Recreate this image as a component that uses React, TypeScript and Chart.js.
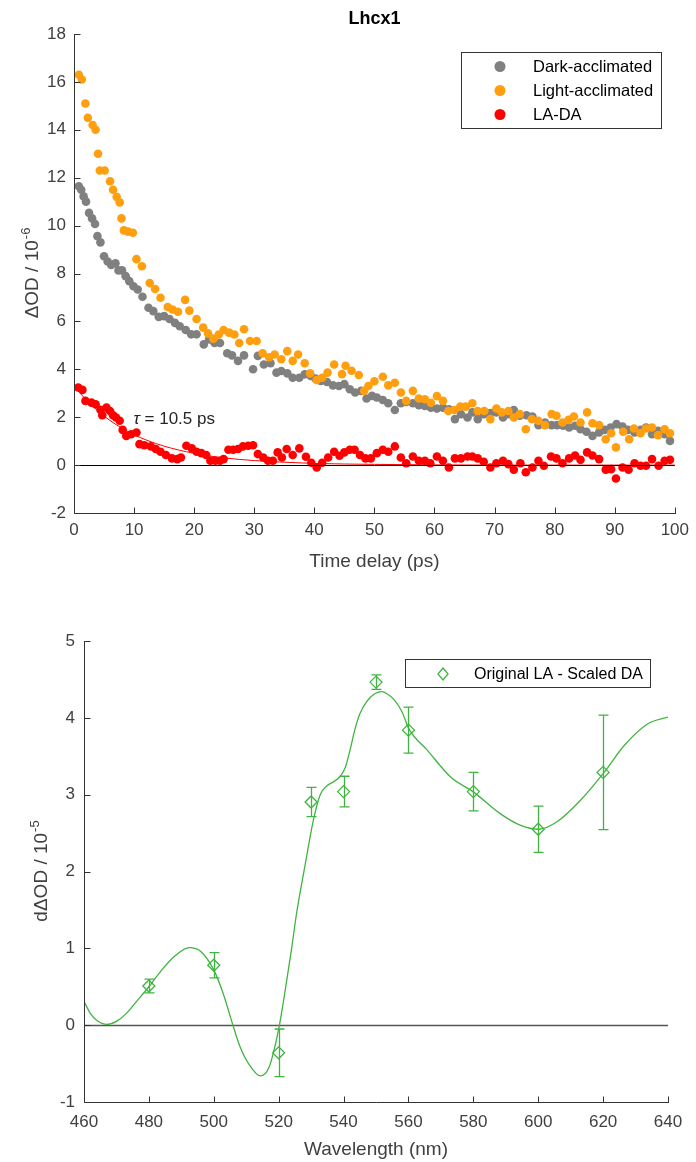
import React, { useEffect, useRef } from 'react';
import { Chart, registerables } from 'chart.js';

Chart.register(...registerables);

const FONT = '"Liberation Sans", Arial, Helvetica, sans-serif';
const AXIS_COLOR = '#333333';
const TEXT_COLOR = '#404040';
const GRAY = '#808080';
const ORANGE = '#FF9F10';
const RED = '#FF0000';
const GREEN = '#40B440';

// ---------- Top chart: kinetics ----------
const timeTicks = [0, 10, 20, 30, 40, 50, 60, 70, 80, 90, 100];
const odTicks = [-2, 0, 2, 4, 6, 8, 10, 12, 14, 16, 18];

const darkT = [0.8, 1.2, 1.6, 2.0, 2.5, 3.0, 3.5, 3.9, 4.4, 5.0, 5.6, 6.2, 6.9, 7.4, 8.0, 8.6, 9.2, 9.9, 10.6, 11.4, 12.4, 13.2, 14.1, 15.0, 15.9, 16.8, 17.6, 18.6, 19.5, 20.4, 21.6, 22.5, 23.4, 24.3, 25.5, 26.3, 27.3, 28.3, 29.8, 30.6, 31.6, 32.7, 33.7, 34.5, 35.5, 36.4, 37.5, 38.4, 39.4, 40.2, 41.1, 42.1, 43.1, 44.1, 45.0, 45.9, 46.8, 47.8, 48.7, 49.6, 50.4, 51.4, 52.3, 53.4, 54.4, 55.3, 56.4, 57.4, 58.4, 59.4, 60.4, 61.4, 62.4, 63.4, 64.4, 65.5, 66.3, 67.2, 68.2, 69.3, 70.3, 71.4, 72.3, 73.2, 74.2, 75.3, 76.3, 77.3, 78.4, 79.5, 80.4, 81.4, 82.4, 83.4, 84.3, 85.3, 86.3, 87.4, 88.3, 89.3, 90.3, 91.3, 92.2, 93.3, 94.3, 95.2, 96.2, 97.2, 98.3, 99.2];
const darkV = [11.64, 11.5, 11.22, 11.0, 10.53, 10.3, 10.07, 9.56, 9.3, 8.72, 8.5, 8.36, 8.43, 8.13, 8.13, 7.89, 7.68, 7.47, 7.33, 7.03, 6.57, 6.43, 6.19, 6.22, 6.1, 5.94, 5.8, 5.64, 5.46, 5.46, 5.04, 5.25, 5.1, 5.1, 4.67, 4.58, 4.35, 4.58, 4.0, 4.56, 4.2, 4.25, 3.86, 3.93, 3.83, 3.65, 3.65, 3.79, 3.72, 3.61, 3.51, 3.47, 3.33, 3.3, 3.38, 3.17, 3.03, 3.1, 2.78, 2.89, 2.82, 2.72, 2.58, 2.3, 2.58, 2.64, 2.58, 2.5, 2.47, 2.4, 2.36, 2.4, 2.33, 1.92, 2.13, 1.99, 2.2, 1.92, 2.13, 2.17, 2.2, 1.99, 2.13, 2.3, 2.06, 2.08, 2.03, 1.67, 1.78, 1.67, 1.67, 1.64, 1.57, 1.64, 1.5, 1.39, 1.22, 1.36, 1.47, 1.57, 1.71, 1.61, 1.47, 1.36, 1.47, 1.57, 1.29, 1.43, 1.29, 1.01];

const lightT = [0.8, 1.3, 1.9, 2.3, 3.1, 3.6, 4.0, 4.3, 5.1, 6.0, 6.5, 7.1, 7.6, 7.9, 8.3, 9.0, 9.8, 10.4, 11.3, 12.6, 13.5, 14.4, 15.6, 16.4, 17.3, 18.5, 19.2, 20.4, 21.5, 22.3, 23.2, 24.1, 24.9, 25.8, 26.7, 27.5, 28.3, 29.3, 30.4, 31.4, 32.5, 33.4, 34.5, 35.5, 36.4, 37.3, 38.4, 39.3, 40.4, 41.3, 42.2, 43.3, 44.6, 45.2, 46.2, 47.4, 48.3, 49.0, 50.0, 51.4, 52.3, 53.4, 54.4, 55.3, 56.4, 57.4, 58.4, 59.4, 60.4, 61.4, 62.3, 63.3, 64.3, 65.2, 66.3, 67.2, 68.3, 69.3, 70.3, 71.2, 72.3, 73.2, 74.2, 75.2, 76.2, 77.3, 78.4, 79.5, 80.3, 81.3, 82.3, 83.2, 84.3, 85.4, 86.3, 87.4, 88.5, 89.4, 90.2, 91.4, 92.4, 93.2, 94.3, 95.2, 96.2, 97.2, 98.3, 99.2];
const lightV = [16.3, 16.1, 15.1, 14.5, 14.2, 14.0, 13.0, 12.3, 12.3, 11.85, 11.5, 11.2, 10.97, 10.3, 9.8, 9.75, 9.7, 8.6, 8.3, 7.6, 7.35, 6.99, 6.6, 6.5, 6.4, 6.9, 6.45, 6.1, 5.74, 5.5, 5.28, 5.45, 5.64, 5.53, 5.45, 5.1, 5.67, 5.18, 5.18, 4.67, 4.5, 4.62, 4.42, 4.76, 4.35, 4.62, 4.25, 3.83, 3.55, 3.65, 3.86, 4.2, 3.8, 4.15, 3.94, 3.76, 3.1, 3.3, 3.5, 3.69, 3.33, 3.44, 3.03, 2.68, 3.1, 2.78, 2.75, 2.6, 2.88, 2.68, 2.26, 2.3, 2.44, 2.44, 2.58, 2.26, 2.26, 1.92, 2.36, 2.2, 2.26, 1.99, 2.13, 1.5, 1.92, 1.85, 1.67, 2.13, 2.06, 1.78, 1.89, 2.03, 1.78, 2.2, 1.75, 1.67, 1.08, 1.33, 0.74, 1.39, 1.08, 1.53, 1.33, 1.53, 1.57, 1.25, 1.5, 1.33];

const diffT = [0.7, 1.4, 1.9, 2.9, 3.6, 4.4, 4.7, 5.4, 6.0, 6.5, 7.0, 7.6, 8.1, 8.7, 9.5, 10.4, 10.9, 11.7, 12.8, 13.6, 14.4, 15.3, 16.3, 17.2, 17.8, 18.7, 19.6, 20.4, 21.2, 22.0, 22.7, 23.5, 24.3, 24.9, 25.7, 26.5, 27.3, 28.1, 29.0, 29.8, 30.6, 31.5, 32.3, 33.1, 33.9, 34.6, 35.4, 36.4, 37.5, 38.6, 39.5, 40.4, 41.3, 42.3, 43.3, 44.2, 45.0, 45.9, 46.7, 47.6, 48.5, 49.4, 50.4, 51.4, 52.3, 53.4, 54.4, 55.3, 56.4, 57.4, 58.4, 59.3, 60.4, 61.4, 62.4, 63.4, 64.4, 65.5, 66.3, 67.2, 68.2, 69.3, 70.3, 71.4, 72.3, 73.2, 74.3, 75.2, 76.3, 77.3, 78.2, 79.4, 80.3, 81.3, 82.4, 83.4, 84.3, 85.4, 86.3, 87.4, 88.5, 89.4, 90.2, 91.3, 92.3, 93.3, 94.3, 95.2, 96.2, 97.3, 98.3, 99.2];
const diffV = [3.24, 3.14, 2.68, 2.61, 2.54, 2.31, 2.08, 2.4, 2.26, 2.08, 1.99, 1.85, 1.47, 1.22, 1.29, 1.36, 0.875, 0.83, 0.78, 0.67, 0.56, 0.42, 0.28, 0.25, 0.32, 0.81, 0.7, 0.56, 0.5, 0.42, 0.18, 0.18, 0.18, 0.25, 0.64, 0.64, 0.67, 0.78, 0.81, 0.83, 0.46, 0.32, 0.18, 0.18, 0.53, 0.32, 0.67, 0.42, 0.7, 0.35, 0.1, -0.1, 0.1, 0.32, 0.56, 0.39, 0.53, 0.64, 0.64, 0.42, 0.28, 0.28, 0.5, 0.64, 0.56, 0.78, 0.32, 0.08, 0.36, 0.18, 0.18, 0.08, 0.36, 0.18, -0.1, 0.28, 0.28, 0.36, 0.36, 0.28, 0.14, -0.1, 0.08, 0.18, 0.04, -0.19, 0.08, -0.3, -0.1, 0.18, -0.03, 0.36, 0.28, 0.08, 0.28, 0.4, 0.22, 0.53, 0.4, 0.25, -0.19, -0.17, -0.56, -0.1, -0.19, 0.08, -0.03, -0.03, 0.25, -0.03, 0.18, 0.22];

// fitted decay of LA-DA (tau = 10.5 ps)
const fitT = [0, 2, 4, 6, 8, 10, 12, 15, 20, 25, 30, 35, 40, 50, 60, 70, 80, 90, 100];
const fitV = [3.3, 2.73, 2.26, 1.86, 1.54, 1.27, 1.05, 0.79, 0.49, 0.3, 0.19, 0.12, 0.07, 0.03, 0.01, 0.0, 0.0, 0.0, 0.0];

const topLegend = ['Dark-acclimated', 'Light-acclimated', 'LA-DA'];
const topColors = [GRAY, ORANGE, RED];

// ---------- Bottom chart: spectrum ----------
const wlTicks = [460, 480, 500, 520, 540, 560, 580, 600, 620, 640];
const dodTicks = [-1, 0, 1, 2, 3, 4, 5];
const wavelengths = [480, 500, 520, 530, 540, 550, 560, 580, 600, 620];
const specValues = [0.51, 0.78, -0.36, 2.905, 3.04, 4.465, 3.84, 3.04, 2.55, 3.29];
const specErrors = [0.09, 0.165, 0.31, 0.19, 0.2, 0.095, 0.3, 0.25, 0.3, 0.745];
const curveWl = [460, 462, 464, 467, 470, 473, 476, 480, 484, 488, 492.4, 496, 500, 503, 505.9, 508, 511, 514.3, 517, 520, 522, 524, 525.5, 528, 530.7, 532.8, 535, 537, 539, 540.5, 542, 543.5, 545, 547.3, 549.5, 551.9, 553.5, 555.5, 558, 560.1, 565.8, 573, 580.2, 588.4, 594.6, 600.2, 605.9, 613.1, 620.3, 626.5, 633.7, 640];
const curveV = [0.31, 0.15, 0.06, 0.01, 0.05, 0.15, 0.3, 0.5, 0.72, 0.9, 1.01, 0.96, 0.72, 0.4, 0.0, -0.27, -0.52, -0.66, -0.55, -0.05, 0.45, 1.0, 1.45, 2.05, 2.67, 3.0, 3.12, 3.17, 3.24, 3.35, 3.58, 3.85, 4.05, 4.22, 4.31, 4.34, 4.31, 4.24, 4.08, 3.86, 3.58, 3.23, 3.03, 2.75, 2.6, 2.55, 2.65, 2.93, 3.29, 3.64, 3.92, 4.01];

const pts = (xs: number[], ys: number[]) => xs.map((x, i) => ({ x, y: ys[i] }));

function drawFrame(chart: any, xTicks: number[], yTicks: number[]) {
  const { ctx, chartArea: a } = chart;
  const xs = chart.scales.x;
  const ys = chart.scales.y;
  ctx.save();
  ctx.strokeStyle = AXIS_COLOR;
  ctx.lineWidth = 1;
  const L = Math.round(a.left) + 0.5;
  const B = Math.round(a.bottom) + 0.5;
  ctx.beginPath();
  ctx.moveTo(L, Math.round(a.top));
  ctx.lineTo(L, B);
  ctx.lineTo(Math.round(a.right) + 1, B);
  for (const v of yTicks) {
    const p = Math.round(ys.getPixelForValue(v)) + 0.5;
    ctx.moveTo(L, p);
    ctx.lineTo(L + 6, p);
  }
  for (const v of xTicks) {
    const p = Math.round(xs.getPixelForValue(v)) + 0.5;
    ctx.moveTo(p, B);
    ctx.lineTo(p, B - 6);
  }
  ctx.stroke();
  ctx.restore();
}

function drawYTitle(ctx: CanvasRenderingContext2D, cx: number, cy: number, main: string, sup: string, size: number) {
  ctx.save();
  ctx.translate(cx, cy);
  ctx.rotate(-Math.PI / 2);
  ctx.fillStyle = TEXT_COLOR;
  ctx.textAlign = 'left';
  ctx.textBaseline = 'alphabetic';
  ctx.font = `${size}px ${FONT}`;
  const w1 = ctx.measureText(main).width;
  const supSize = Math.round(size * 0.68);
  ctx.font = `${supSize}px ${FONT}`;
  const w2 = ctx.measureText(sup).width;
  const start = -(w1 + w2) / 2;
  const base = size * 0.36;
  ctx.font = `${size}px ${FONT}`;
  ctx.fillText(main, start, base);
  ctx.font = `${supSize}px ${FONT}`;
  ctx.fillText(sup, start + w1 + 1, base - size * 0.42);
  ctx.restore();
}

function drawXTitle(ctx: CanvasRenderingContext2D, cx: number, cy: number, text: string, size: number) {
  ctx.save();
  ctx.fillStyle = TEXT_COLOR;
  ctx.textAlign = 'center';
  ctx.textBaseline = 'middle';
  ctx.font = `${size}px ${FONT}`;
  ctx.fillText(text, cx, cy);
  ctx.restore();
}

const topDecor = {
  id: 'topDecor',
  afterDatasetsDraw(chart: any) {
    const { ctx, chartArea: a } = chart;
    const xs = chart.scales.x;
    const ys = chart.scales.y;
    // zero line
    ctx.save();
    ctx.strokeStyle = '#000000';
    ctx.lineWidth = 1;
    const y0 = Math.round(ys.getPixelForValue(0)) + 0.5;
    ctx.beginPath();
    ctx.moveTo(a.left, y0);
    ctx.lineTo(a.right, y0);
    ctx.stroke();
    ctx.restore();

    drawFrame(chart, timeTicks, odTicks);

    // tau annotation
    ctx.save();
    ctx.fillStyle = '#262626';
    ctx.textBaseline = 'middle';
    ctx.textAlign = 'left';
    const tx = xs.getPixelForValue(9.9);
    const ty = ys.getPixelForValue(1.9);
    ctx.font = `italic 17px ${FONT}`;
    ctx.fillText('\u03C4', tx, ty);
    const tw = ctx.measureText('\u03C4').width;
    ctx.font = `17px ${FONT}`;
    ctx.fillText(' = 10.5 ps', tx + tw, ty);
    ctx.restore();

    // legend
    ctx.save();
    ctx.fillStyle = '#ffffff';
    ctx.fillRect(461.5, 52.5, 200, 76);
    ctx.strokeStyle = AXIS_COLOR;
    ctx.lineWidth = 1;
    ctx.strokeRect(461.5, 52.5, 200, 76);
    topLegend.forEach((label, i) => {
      const yy = 66.5 + i * 24;
      ctx.fillStyle = topColors[i];
      ctx.beginPath();
      ctx.arc(500, yy, 5.5, 0, Math.PI * 2);
      ctx.fill();
      ctx.fillStyle = '#000000';
      ctx.font = `16.5px ${FONT}`;
      ctx.textBaseline = 'middle';
      ctx.textAlign = 'left';
      ctx.fillText(label, 533, yy + 1);
    });
    ctx.restore();

    // title
    ctx.save();
    ctx.fillStyle = '#000000';
    ctx.font = `bold 18px ${FONT}`;
    ctx.textAlign = 'center';
    ctx.textBaseline = 'alphabetic';
    ctx.fillText('Lhcx1', (a.left + a.right) / 2, 24);
    ctx.restore();

    drawYTitle(ctx, 31, (a.top + a.bottom) / 2, '\u0394OD / 10', '-6', 19);
    drawXTitle(ctx, (a.left + a.right) / 2, 562, 'Time delay (ps)', 19);
  },
};

const bottomDecor = {
  id: 'bottomDecor',
  beforeDatasetsDraw(chart: any) {
    const { ctx, chartArea: a } = chart;
    const ys = chart.scales.y;
    ctx.save();
    ctx.strokeStyle = '#555555';
    ctx.lineWidth = 1.5;
    const y0 = Math.round(ys.getPixelForValue(0)) + 0.5;
    ctx.beginPath();
    ctx.moveTo(a.left, y0);
    ctx.lineTo(a.right, y0);
    ctx.stroke();
    ctx.restore();
  },
  afterDatasetsDraw(chart: any) {
    const { ctx, chartArea: a } = chart;
    const xs = chart.scales.x;
    const ys = chart.scales.y;
    // error bars
    ctx.save();
    ctx.strokeStyle = GREEN;
    ctx.lineWidth = 1.3;
    ctx.beginPath();
    wavelengths.forEach((w, i) => {
      const px = Math.round(xs.getPixelForValue(w)) + 0.5;
      const hi = ys.getPixelForValue(specValues[i] + specErrors[i]);
      const lo = ys.getPixelForValue(specValues[i] - specErrors[i]);
      ctx.moveTo(px, hi);
      ctx.lineTo(px, lo);
      ctx.moveTo(px - 5, hi);
      ctx.lineTo(px + 5, hi);
      ctx.moveTo(px - 5, lo);
      ctx.lineTo(px + 5, lo);
    });
    ctx.stroke();
    ctx.restore();

    drawFrame(chart, wlTicks, dodTicks);

    // legend
    ctx.save();
    ctx.fillStyle = '#ffffff';
    ctx.fillRect(405.5, 79.5, 245, 28);
    ctx.strokeStyle = AXIS_COLOR;
    ctx.lineWidth = 1;
    ctx.strokeRect(405.5, 79.5, 245, 28);
    const ly = 94;
    ctx.strokeStyle = GREEN;
    ctx.lineWidth = 1.3;
    ctx.beginPath();
    ctx.moveTo(443, ly - 6);
    ctx.lineTo(448, ly);
    ctx.lineTo(443, ly + 6);
    ctx.lineTo(438, ly);
    ctx.closePath();
    ctx.stroke();
    ctx.fillStyle = '#000000';
    ctx.font = `16px ${FONT}`;
    ctx.textAlign = 'left';
    ctx.textBaseline = 'middle';
    ctx.fillText('Original LA - Scaled DA', 474, ly + 1);
    ctx.restore();

    drawYTitle(ctx, 40, (a.top + a.bottom) / 2, 'd\u0394OD / 10', '-5', 19);
    drawXTitle(ctx, (a.left + a.right) / 2, 570, 'Wavelength (nm)', 19);
  },
};

function tickScale(ticksArr: number[], fixed: { width?: number; height?: number }, padding: number) {
  return {
    type: 'linear' as const,
    min: ticksArr[0],
    max: ticksArr[ticksArr.length - 1],
    afterBuildTicks: (s: any) => {
      s.ticks = ticksArr.map((v) => ({ value: v }));
    },
    afterFit: (s: any) => {
      if (fixed.width !== undefined) s.width = fixed.width;
      if (fixed.height !== undefined) s.height = fixed.height;
    },
    grid: { display: false, drawTicks: false },
    border: { display: false },
    ticks: {
      color: TEXT_COLOR,
      font: { family: FONT, size: 17 },
      padding,
      maxRotation: 0,
      autoSkip: false,
    },
  };
}

export default function App() {
  const topRef = useRef<HTMLCanvasElement>(null);
  const botRef = useRef<HTMLCanvasElement>(null);

  useEffect(() => {
    const c1 = new Chart(topRef.current as HTMLCanvasElement, {
      type: 'scatter',
      data: {
        datasets: [
          {
            label: 'fit',
            data: pts(fitT, fitV),
            showLine: true,
            borderColor: RED,
            borderWidth: 1,
            pointRadius: 0,
            cubicInterpolationMode: 'monotone',
            order: 0,
          } as any,
          {
            label: 'LA-DA',
            data: pts(diffT, diffV),
            backgroundColor: RED,
            borderWidth: 0,
            pointRadius: 4.3,
            order: 1,
          },
          {
            label: 'Light-acclimated',
            data: pts(lightT, lightV),
            backgroundColor: ORANGE,
            borderWidth: 0,
            pointRadius: 4.3,
            order: 2,
          },
          {
            label: 'Dark-acclimated',
            data: pts(darkT, darkV),
            backgroundColor: GRAY,
            borderWidth: 0,
            pointRadius: 4.3,
            order: 3,
          },
        ],
      },
      options: {
        animation: false,
        responsive: false,
        devicePixelRatio: 1,
        events: [],
        layout: { padding: { top: 34, right: 16, left: 0, bottom: 0 } },
        plugins: { legend: { display: false }, tooltip: { enabled: false }, title: { display: false } },
        scales: {
          x: tickScale(timeTicks, { height: 67 }, 7) as any,
          y: tickScale(odTicks, { width: 74 }, 8) as any,
        },
      },
      plugins: [topDecor],
    });

    const c2 = new Chart(botRef.current as HTMLCanvasElement, {
      type: 'scatter',
      data: {
        datasets: [
          {
            label: 'Original LA - Scaled DA',
            data: pts(wavelengths, specValues),
            pointStyle: 'rectRot',
            pointRadius: 6,
            borderColor: GREEN,
            backgroundColor: 'rgba(0,0,0,0)',
            borderWidth: 1.3,
            order: 0,
          },
          {
            label: 'curve',
            data: pts(curveWl, curveV),
            showLine: true,
            borderColor: GREEN,
            borderWidth: 1.3,
            pointRadius: 0,
            cubicInterpolationMode: 'monotone',
            order: 1,
          } as any,
        ],
      },
      options: {
        animation: false,
        responsive: false,
        devicePixelRatio: 1,
        events: [],
        layout: { padding: { top: 61, right: 28, left: 0, bottom: 0 } },
        plugins: { legend: { display: false }, tooltip: { enabled: false }, title: { display: false } },
        scales: {
          x: tickScale(wlTicks, { height: 60 }, 10) as any,
          y: tickScale(dodTicks, { width: 84 }, 9) as any,
        },
      },
      plugins: [bottomDecor],
    });

    return () => {
      c1.destroy();
      c2.destroy();
    };
  }, []);

  return (
    <div style={{ position: 'absolute', left: 0, top: 0, width: 696, height: 1162, background: '#ffffff' }}>
      <canvas ref={topRef} width={696} height={580} style={{ display: 'block', width: 696, height: 580 }} />
      <canvas ref={botRef} width={696} height={582} style={{ display: 'block', width: 696, height: 582 }} />
    </div>
  );
}
